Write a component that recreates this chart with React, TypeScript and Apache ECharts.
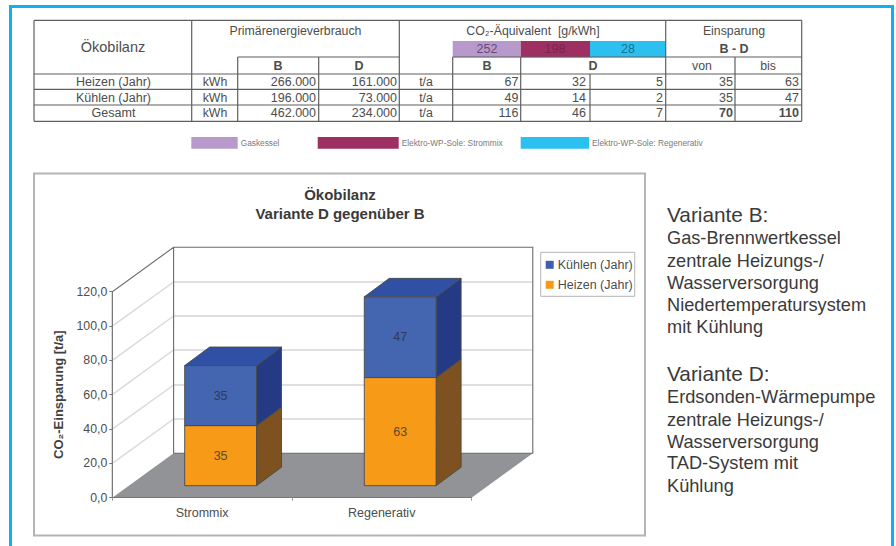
import React, { useEffect, useRef } from "react";
import * as echarts from "echarts";

// ---- data ----
const categories = ["Strommix", "Regenerativ"];
const heizen = [35, 63];
const kuehlen = [35, 47];
const yTicks = [0, 20, 40, 60, 80, 100, 120];
const rowLabels = ["Heizen (Jahr)", "Kühlen (Jahr)", "Gesamt"];
const primaerB = ["266.000", "196.000", "462.000"];
const primaerD = ["161.000", "73.000", "234.000"];
const co2B = ["67", "49", "116"];
const co2DStrom = ["32", "14", "46"];
const co2DRegen = ["5", "2", "7"];
const sparVon = ["35", "35", "70"];
const sparBis = ["63", "47", "110"];
const factors = ["252", "198", "28"];
const keyLabels = ["Gaskessel", "Elektro-WP-Sole: Strommix", "Elektro-WP-Sole: Regenerativ"];
const variantB = ["Gas-Brennwertkessel", "zentrale Heizungs-/", "Wasserversorgung", "Niedertemperatursystem", "mit Kühlung"];
const variantD = ["Erdsonden-Wärmepumpe", "zentrale Heizungs-/", "Wasserversorgung", "TAD-System mit", "Kühlung"];

// ---- styling / layout ----
const FONT = '"Liberation Sans", Arial, sans-serif';
const TXT = "#4d4d4d";
const LINE = "#5f5f5f";
const ACCENT = "#0DB0F0";
const factorColors = ["#B79ACB", "#9E2F62", "#2CC0F0"];
const factorText = ["#654a7c", "#7a2550", "#17708f"];
const WALL_DX = 61.3;
const WALL_DY = -44.4;
const BAR_DX = 18.5;
const BAR_DY = -12;
const SIDE_DX = 25;
const SIDE_DY = -18.5;

const text = (t: string, x: number, y: number, size: number, align = "center", weight = "normal", fill = TXT) => ({
  type: "text",
  silent: true,
  z: 5,
  style: {
    text: t,
    x,
    y,
    fill,
    textAlign: align,
    textVerticalAlign: "middle",
    font: `${weight} ${size}px ${FONT}`,
  },
});
const rect = (x: number, y: number, w: number, h: number, fill: string, stroke?: string, lw = 1) => ({
  type: "rect",
  silent: true,
  z: -1,
  shape: { x, y, width: w, height: h },
  style: { fill, stroke: stroke ?? "none", lineWidth: lw },
});
const line = (x1: number, y1: number, x2: number, y2: number) => ({
  type: "line",
  silent: true,
  z: 4,
  shape: { x1, y1, x2, y2 },
  style: { stroke: LINE, lineWidth: 1.2 },
});

function tableElements() {
  const out: any[] = [];
  const colX = [191.7, 237.7, 318.7, 399.3, 452.7, 520.7, 590, 665.7, 735];
  const L = 34, R = 801.7, T = 20.3, B = 121.3;
  const rowY = [74, 89.3, 105];
  const midY = [82.3, 97.5, 113.3];
  out.push(rect(colX[4], 41, colX[5] - colX[4], 16.3, factorColors[0]));
  out.push(rect(colX[5], 41, colX[6] - colX[5], 16.3, factorColors[1]));
  out.push(rect(colX[6], 41, colX[7] - colX[6], 16.3, factorColors[2]));
  out.push(line(L, T, R, T), line(L, B, R, B), line(L, T, L, B), line(R, T, R, B));
  rowY.forEach((y) => out.push(line(L, y, R, y)));
  out.push(line(colX[1], 57, colX[3], 57), line(colX[4], 57, R, 57));
  out.push(line(colX[0], T, colX[0], B), line(colX[3], T, colX[3], B), line(colX[7], T, colX[7], B));
  [colX[1], colX[2], colX[8]].forEach((x) => out.push(line(x, 57, x, B)));
  [colX[4], colX[5]].forEach((x) => out.push(line(x, 57, x, B)));
  out.push(line(colX[6], 74, colX[6], B));

  out.push(text("Ökobilanz", 113, 46.7, 14.5));
  out.push(text("Primärenergieverbrauch", 295.5, 31, 12.3));
  out.push(text("B", 278, 65.5, 12.5, "center", "bold"), text("D", 359, 65.5, 12.5, "center", "bold"));
  out.push(text("CO₂-Äquivalent  [g/kWh]", 533, 31, 12.3));
  factors.forEach((f, i) => out.push(text(f, [487, 555, 628][i], 49, 12.5, "center", "normal", factorText[i])));
  out.push(text("B", 487, 66, 12.5, "center", "bold"), text("D", 593, 66, 12.5, "center", "bold"));
  out.push(text("Einsparung", 734, 31, 12.3), text("B - D", 734, 49, 12.5, "center", "bold"));
  out.push(text("von", 702, 66, 12.3), text("bis", 768, 66, 12.3));
  rowLabels.forEach((r, i) => {
    const y = midY[i];
    out.push(text(r, 113.5, y, 12.5));
    out.push(text("kWh", 215, y, 12.3), text("t/a", 426, y, 12.3));
    out.push(text(primaerB[i], 316, y, 12.5, "right"), text(primaerD[i], 397, y, 12.5, "right"));
    out.push(text(co2B[i], 518.5, y, 12.5, "right"));
    out.push(text(co2DStrom[i], 586, y, 12.5, "right"), text(co2DRegen[i], 663, y, 12.5, "right"));
    const w = i === 2 ? "bold" : "normal";
    out.push(text(sparVon[i], 733, y, 12.5, "right", w), text(sparBis[i], 799, y, 12.5, "right", w));
  });
  // colour key
  const keyX = [191.3, 317.7, 520.7];
  const keyW = [46.4, 81, 68.3];
  keyLabels.forEach((k, i) => {
    out.push(rect(keyX[i], 137, keyW[i], 11.7, factorColors[i]));
    out.push(text(k, keyX[i] + keyW[i] + 3, 143, 8.3, "left", "normal", "#7a7a7a"));
  });
  return out;
}

function sideElements() {
  const out: any[] = [];
  out.push(text("Variante B:", 667, 214, 20.8, "left", "normal", "#3a3a3a"));
  [237.5, 261, 283, 304.5, 326.5].forEach((y, i) => out.push(text(variantB[i], 667, y, 18.2, "left", "normal", "#3a3a3a")));
  out.push(text("Variante D:", 667, 373.5, 20.8, "left", "normal", "#3a3a3a"));
  [397, 420, 441.5, 463, 486].forEach((y, i) => out.push(text(variantD[i], 667, y, 18.2, "left", "normal", "#3a3a3a")));
  return out;
}

const fmt = (v: number) => v.toFixed(1).replace(".", ",");

function renderWalls(params: any, api: any) {
  const cs = params.coordSys;
  const x0 = cs.x;
  const x1 = cs.x + cs.width;
  const yOf = (v: number) => api.coord([0, v])[1];
  const y0 = yOf(0);
  const yT = yOf(120);
  const children: any[] = [];
  children.push({
    type: "polygon",
    shape: { points: [[x0, y0], [x0 + WALL_DX, y0 + WALL_DY], [x1 + WALL_DX, y0 + WALL_DY], [x1, y0]] },
    style: { fill: "#929396", stroke: "none" },
  });
  yTicks.filter((v) => v > 0 && v < 120).forEach((v) => {
    const y = yOf(v);
    const yBack = Math.round(y + WALL_DY);
    children.push({
      type: "line",
      shape: { x1: x0, y1: y, x2: x0 + WALL_DX, y2: yBack },
      style: { stroke: "#dadada", lineWidth: 1.5 },
    });
    children.push({
      type: "rect",
      shape: { x: x0 + WALL_DX, y: yBack - 0.75, width: x1 - x0, height: 1.5 },
      style: { fill: "#d6d6d6", stroke: "none" },
    });
  });
  children.push({
    type: "polyline",
    shape: {
      points: [
        [x0, y0], [x0, yT], [x0 + WALL_DX, yT + WALL_DY], [x1 + WALL_DX, yT + WALL_DY],
        [x1 + WALL_DX, y0 + WALL_DY], [x0 + WALL_DX, y0 + WALL_DY], [x0 + WALL_DX, yT + WALL_DY],
      ],
    },
    style: { fill: "none", stroke: "#6a6a6a", lineWidth: 1.1 },
  });
  return { type: "group", children };
}

const makeBar = (front: string, top: string, side: string, labelColor: string) => (params: any, api: any) => {
  const band = api.size([1, 0])[0];
  const w = band * 0.4;
  const c = api.coord([api.value(0), 0])[0] + BAR_DX;
  const low = api.value(1);
  const high = api.value(2);
  const yL = api.coord([0, low])[1] + BAR_DY;
  const yH = api.coord([0, high])[1] + BAR_DY;
  const xL = c - w / 2;
  const xR = c + w / 2;
  const edge = { stroke: "#4a4a4a", lineWidth: 0.9, lineJoin: "round" };
  return {
    type: "group",
    children: [
      {
        type: "polygon",
        shape: { points: [[xR, yL], [xR + SIDE_DX, yL + SIDE_DY], [xR + SIDE_DX, yH + SIDE_DY], [xR, yH]] },
        style: { fill: side, ...edge },
      },
      {
        type: "polygon",
        shape: { points: [[xL, yH], [xL + SIDE_DX, yH + SIDE_DY], [xR + SIDE_DX, yH + SIDE_DY], [xR, yH]] },
        style: { fill: top, ...edge },
      },
      {
        type: "rect",
        shape: { x: xL, y: yH, width: w, height: yL - yH },
        style: { fill: front, ...edge },
      },
      {
        type: "text",
        style: {
          text: String(high - low),
          x: c,
          y: (yL + yH) / 2,
          fill: labelColor,
          textAlign: "center",
          textVerticalAlign: "middle",
          font: `12.5px ${FONT}`,
        },
      },
    ],
  };
};

export default function App() {
  const ref = useRef<HTMLDivElement>(null);
  useEffect(() => {
    document.body.style.margin = "0";
    const chart = echarts.init(ref.current!, undefined, { renderer: "svg" });
    chart.setOption({
      animation: false,
      backgroundColor: "#ffffff",
      textStyle: { fontFamily: FONT },
      grid: { left: 112.3, top: 291.7, width: 359.2, height: 206, containLabel: false },
      xAxis: {
        type: "category",
        data: categories,
        axisLine: { lineStyle: { color: "#777", width: 1 } },
        axisTick: { show: true, length: 3, lineStyle: { color: "#999" } },
        axisLabel: { color: TXT, fontSize: 12.5, margin: 9, fontFamily: FONT },
        splitLine: { show: false },
        z: 3,
      },
      yAxis: {
        type: "value",
        min: 0,
        max: 120,
        interval: 20,
        axisLine: { show: true, lineStyle: { color: "#777", width: 1 } },
        axisTick: { show: true, length: 3, lineStyle: { color: "#777" } },
        axisLabel: { color: TXT, fontSize: 12.3, margin: 5, formatter: fmt, fontFamily: FONT },
        splitLine: { show: false },
        name: "CO₂-Einsparung [t/a]",
        nameLocation: "middle",
        nameRotate: 90,
        nameGap: 47,
        nameTextStyle: { color: "#3f3f3f", fontSize: 13, fontWeight: "bold", fontFamily: FONT },
        z: 3,
      },
      legend: {
        show: true,
        orient: "vertical",
        left: 540.7,
        top: 252.3,
        padding: [6, 2, 5, 5],
        itemGap: 7,
        itemWidth: 8,
        itemHeight: 8,
        icon: "rect",
        backgroundColor: "#fff",
        borderColor: "#b5b5b5",
        borderWidth: 1,
        textStyle: { color: TXT, fontSize: 12.5, fontFamily: FONT, padding: [0, 0, 0, -1] },
        data: ["Kühlen (Jahr)", "Heizen (Jahr)"],
      },
      graphic: [
        rect(10.5, 6.5, 882, 560, "none", ACCENT, 3),
        rect(34, 173.5, 611, 362, "#fff", "#b4b4b4", 2),
        ...tableElements(),
        ...sideElements(),
        text("Ökobilanz", 340, 194, 15, "center", "bold", "#3a3a3a"),
        text("Variante D gegenüber B", 340, 213, 15, "center", "bold", "#3a3a3a"),
      ],
      series: [
        {
          type: "custom",
          name: "walls",
          z: 2,
          silent: true,
          renderItem: renderWalls,
          data: [[0]],
          encode: { x: 0 },
        },
        {
          type: "custom",
          name: "Heizen (Jahr)",
          z: 3,
          silent: true,
          itemStyle: { color: "#F79A17" },
          renderItem: makeBar("#F79A17", "#F79A17", "#7E5220", "#5a4a2a"),
          data: categories.map((_, i) => [i, 0, heizen[i]]),
          encode: { x: 0, y: 2 },
        },
        {
          type: "custom",
          name: "Kühlen (Jahr)",
          z: 4,
          silent: true,
          itemStyle: { color: "#3F5FAE" },
          renderItem: makeBar("#4465B0", "#2F50A5", "#253A85", "#2f3a5e"),
          data: categories.map((_, i) => [i, heizen[i], heizen[i] + kuehlen[i]]),
          encode: { x: 0, y: 2 },
        },
      ],
    });
    return () => chart.dispose();
  }, []);
  return <div ref={ref} style={{ position: "absolute", left: 0, top: 0, width: 896, height: 546 }} />;
}
